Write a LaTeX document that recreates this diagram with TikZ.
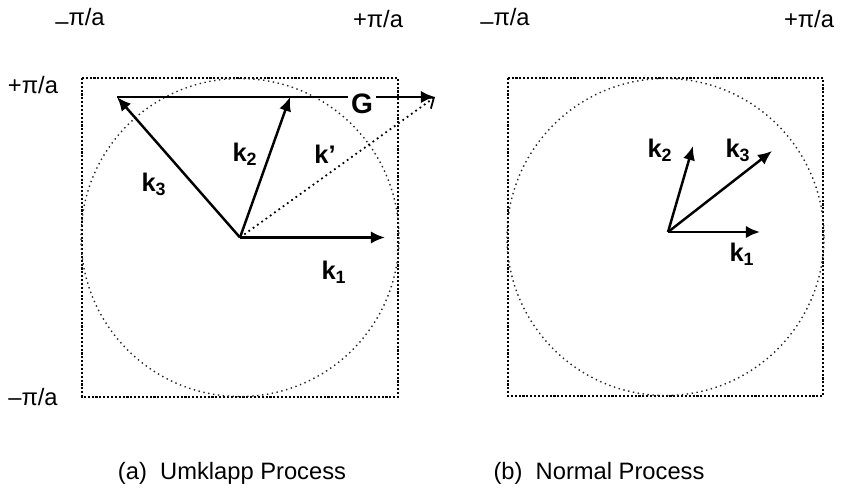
\documentclass[tikz,border=0pt]{standalone}
\usepackage{fontspec}
\setmainfont{Liberation Sans}
\usetikzlibrary{arrows.meta}

\newcommand{\lowminus}{\raisebox{-0.35ex}{\textendash}}
\newcommand{\kk}[1]{\textbf{k}\textsubscript{\textbf{#1}}}

\begin{document}
\begin{tikzpicture}[x=2mm,y=-2mm,>={Latex[length=8pt,width=7pt]},
  zone/.style={densely dotted,line width=1.2pt},
  sphere/.style={dotted,line width=0.8pt,black!85},
  kvec/.style={->,line width=1.4pt},
  kdot/.style={dotted,line width=1pt,-{Straight Barb[length=5pt,width=8pt]}},
  klabel/.style={font=\fontsize{14.5}{16}\selectfont\bfseries},
  lim/.style={font=\fontsize{13.5}{15}\selectfont},
  captext/.style={font=\fontsize{13.5}{15}\selectfont}]

\useasboundingbox (0,0) rectangle (84.2,50.1);

% (a) Umklapp
\draw[zone] (8.2,7.8) rectangle (39.8,39.7);
\draw[sphere] (24.0,23.75) circle[radius=15.9];

\coordinate (oa) at (24.0,23.75);
\coordinate (k1a) at (38.5,23.75);
\coordinate (k2a) at (29.0,9.7);
\coordinate (k3a) at (11.7,9.7);
\coordinate (kpa) at (43.5,9.7);

\draw[kvec] (oa) -- (k1a);
\draw[kvec] (oa) -- (k2a);
\draw[kvec] (oa) -- (k3a);
\draw[kdot] (oa) -- (kpa);
\draw[kvec] (k3a) -- (kpa);

\node[klabel] (lk1a) at (33.4,27.2) {\kk{1}};
\node[klabel] (lk2a) at (24.5,15.4) {\kk{2}};
\node[klabel] (lk3a) at (15.4,18.4) {\kk{3}};
\node[klabel] (lkpa) at (32.5,15.4) {k'};
\node[klabel,fill=white,inner sep=1.5pt,font=\fontsize{16}{18}\selectfont\bfseries] (lg) at (36.2,10.4) {G};

% (b) Normal
\draw[zone] (50.8,7.8) rectangle (82.3,39.6);
\draw[sphere] (66.55,23.7) circle[radius=15.85];

\coordinate (ob) at (66.8,23.2);
\coordinate (k1b) at (76.0,23.2);
\coordinate (k2b) at (69.3,14.6);
\coordinate (k3b) at (77.2,15.1);

\draw[kvec] (ob) -- (k1b);
\draw[kvec] (ob) -- (k2b);
\draw[kvec] (ob) -- (k3b);

\node[klabel] (lk1b) at (74.2,25.4) {\kk{1}};
\node[klabel] (lk2b) at (66.0,15.0) {\kk{2}};
\node[klabel] (lk3b) at (73.8,15.0) {\kk{3}};

% zone limits
\node[lim] (ta1) at (8.0,1.9) {\lowminus π/a};
\node[lim] (ta2) at (37.8,1.9) {+π/a};
\node[lim] (tb1) at (50.5,1.9) {\lowminus π/a};
\node[lim] (tb2) at (80.9,1.9) {+π/a};
\node[lim] (ya1) at (3.3,8.5) {+π/a};
\node[lim] (ya2) at (3.3,39.7) {\textendash π/a};

% captions
\node[captext] (capa) at (23.2,47.3) {(a)\ \ Umklapp Process};
\node[captext] (capb) at (59.9,47.3) {(b)\ \ Normal Process};

\end{tikzpicture}
\end{document}
